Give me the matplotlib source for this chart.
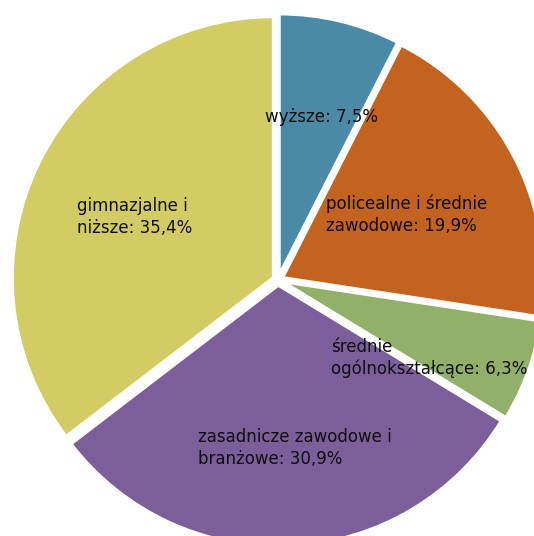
import numpy as np
import matplotlib
matplotlib.use("Agg")
import matplotlib.pyplot as plt

# udział wg poziomu wykształcenia (%)
categories = ["wyższe", "policealne i średnie\nzawodowe", "średnie\nogólnokształcące",
              "zasadnicze zawodowe i\nbranżowe", "gimnazjalne i\nniższe"]
values = [7.5, 19.9, 6.3, 30.9, 35.4]
value_labels = ["7,5%", "19,9%", "6,3%", "30,9%", "35,4%"]
colors = ["#4A8AA7", "#C4631F", "#92B069", "#7C5E9B", "#D3CB63"]

W, H = 534, 536
R_PX = 261.0          # promień koła w pikselach
CX, CY = 278, 280     # środek koła (piksele od lewej / od góry)

fig = plt.figure(figsize=(W / 100, H / 100), dpi=100)
ax = fig.add_axes([0, 0, 1, 1])

wedges, _ = ax.pie(values, colors=colors, startangle=90, counterclock=False,
                   explode=[0.02] * len(values), radius=1.0,
                   wedgeprops=dict(edgecolor="white", linewidth=2.2))

# etykiety na kącie środkowym wycinka (promień, przesunięcie kąta)
label_r = [0.626, 0.533, 0.631, 0.627, 0.579]
label_da = [-1.5, -0.4, -7.6, 2.8, 2.6]
for w, cat, lab, r, da in zip(wedges, categories, value_labels, label_r, label_da):
    ang = np.deg2rad((w.theta1 + w.theta2) / 2 + da)
    x = w.center[0] + r * np.cos(ang)
    y = w.center[1] + r * np.sin(ang)
    ax.text(x, y, f"{cat}: {lab}", ha="center", va="center", multialignment="left",
            fontsize=12, color="#0d0d0d", linespacing=1.25, family="DejaVu Sans")

ax.set_xlim(-CX / R_PX, (W - CX) / R_PX)
ax.set_ylim(-(H - CY) / R_PX, CY / R_PX)
ax.set_aspect("auto")
ax.axis("off")

fig.savefig("out.png", dpi=100, facecolor="white")
